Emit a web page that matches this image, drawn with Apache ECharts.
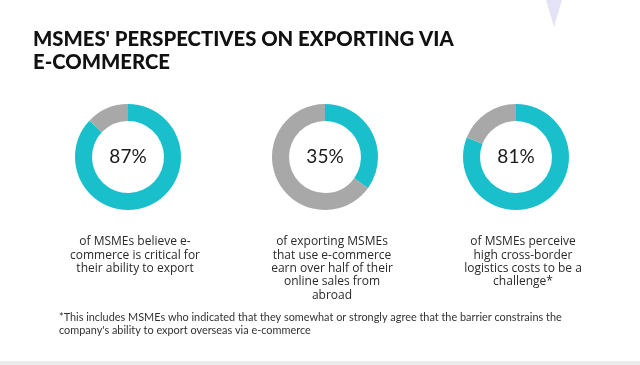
<!DOCTYPE html>
<html>
<head>
<meta charset="utf-8">
<script src="https://cdn.jsdelivr.net/npm/echarts@6/dist/echarts.min.js"></script>
<style>
html,body{margin:0;padding:0;background:#fff;}
#c{width:640px;height:365px;}
</style>
</head>
<body>
<div id="c"></div>
<script>
var chartTitle = "MSMES' PERSPECTIVES ON EXPORTING VIA\nE-COMMERCE";
var shares = [87, 35, 81];
var captions = [
  "of MSMEs believe e-\ncommerce is critical for\ntheir ability to export",
  "of exporting MSMEs\nthat use e-commerce\nearn over half of their\nonline sales from\nabroad",
  "of MSMEs perceive\nhigh cross-border\nlogistics costs to be a\nchallenge*"
];
var footnote = "*This includes MSMEs who indicated that they somewhat or strongly agree that the barrier constrains the\ncompany's ability to export overseas via e-commerce";

var centersX = [128, 325, 516];
var TEAL = '#19c0cc', GREY = '#a8a8a8';

var chart = echarts.init(document.getElementById('c'), null, {renderer: 'canvas'});

var titles = [{
  text: chartTitle, left: 28, top: 23,
  textStyle: {fontFamily: 'Lato', fontWeight: 900, fontSize: 20.3, lineHeight: 23, color: '#111'}
}];
captions.forEach(function (t, i) {
  titles.push({
    text: t, left: centersX[i] + 2, top: 230, textAlign: 'center',
    textStyle: {fontFamily: 'Open Sans', fontWeight: 'normal', fontSize: 12, lineHeight: 13.4, color: '#2a2a2a'}
  });
});
titles.push({
  text: footnote, left: 54, top: 306,
  textStyle: {fontFamily: 'Lato', fontWeight: 'normal', fontSize: 10.9, lineHeight: 13, color: '#333'}
});

var series = shares.map(function (v, i) {
  return {
    type: 'pie',
    center: [centersX[i], 157],
    radius: [36, 53],
    startAngle: 90,
    clockwise: true,
    silent: true,
    avoidLabelOverlap: false,
    label: {
      show: true, position: 'center',
      formatter: function () { return v + '%'; },
      fontFamily: 'Lato', fontSize: 19, color: '#1a1a1a', fontWeight: 'normal'
    },
    labelLine: {show: false},
    emphasis: {disabled: true},
    data: [
      {value: v, itemStyle: {color: TEAL}},
      {value: 100 - v, itemStyle: {color: GREY}, label: {show: false}}
    ]
  };
});

chart.setOption({
  animation: false,
  backgroundColor: '#fff',
  title: titles,
  series: series,
  graphic: [
    {type: 'polygon', shape: {points: [[546, 0], [562, 0], [554, 27]]},
     style: {fill: '#e4e2f6'}, silent: true},
    {type: 'rect', shape: {x: 0, y: 361, width: 640, height: 4},
     style: {fill: '#ececec'}, silent: true}
  ]
});
</script>
</body>
</html>
